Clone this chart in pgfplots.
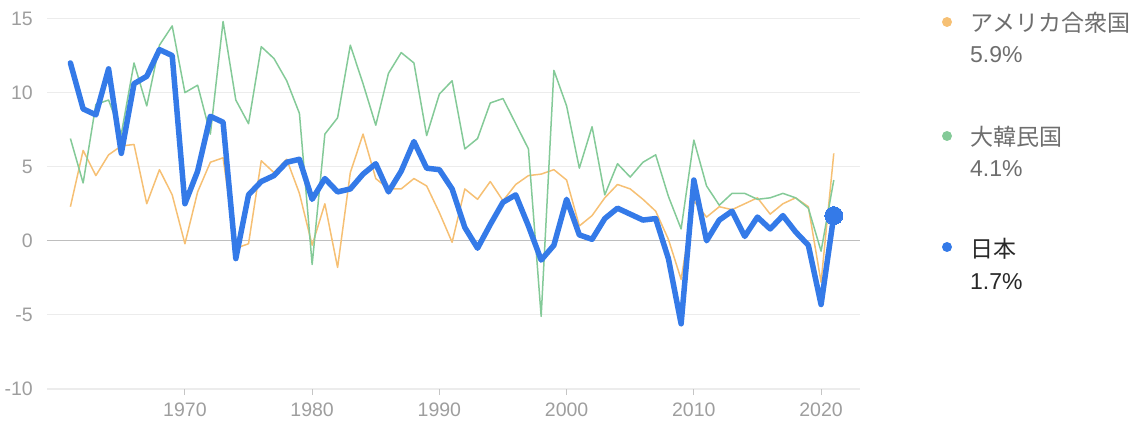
\documentclass[border=0pt]{standalone}
\usepackage{fontspec}
\setmainfont{Liberation Sans}
\newfontfamily\cjk{Noto Sans CJK JP}
\usepackage{pgfplots}
\usepackage{pgfplotstable}
\pgfplotsset{compat=1.18}
\definecolor{jpblue}{RGB}{52,122,232}
\definecolor{usorange}{RGB}{246,192,116}
\definecolor{krgreen}{RGB}{132,202,152}
\definecolor{gridc}{RGB}{236,236,236}
\definecolor{zeroc}{RGB}{190,190,190}
\definecolor{tickc}{RGB}{158,158,158}
\definecolor{legc}{RGB}{110,110,110}
\definecolor{legdark}{RGB}{40,40,40}

\pgfplotstableread{
year val
1961 2.3
1962 6.1
1963 4.4
1964 5.8
1965 6.4
1966 6.5
1967 2.5
1968 4.8
1969 3.1
1970 -0.2
1971 3.3
1972 5.3
1973 5.6
1974 -0.5
1975 -0.2
1976 5.4
1977 4.6
1978 5.5
1979 3.2
1980 -0.3
1981 2.5
1982 -1.8
1983 4.6
1984 7.2
1985 4.2
1986 3.5
1987 3.5
1988 4.2
1989 3.7
1990 1.9
1991 -0.1
1992 3.5
1993 2.8
1994 4.0
1995 2.7
1996 3.8
1997 4.4
1998 4.5
1999 4.8
2000 4.1
2001 1.0
2002 1.7
2003 2.9
2004 3.8
2005 3.5
2006 2.8
2007 2.0
2008 0.1
2009 -2.6
2010 2.7
2011 1.6
2012 2.3
2013 2.1
2014 2.5
2015 2.9
2016 1.8
2017 2.5
2018 2.9
2019 2.3
2020 -2.8
2021 5.9
}\usa

\pgfplotstableread{
year val
1961 6.9
1962 3.9
1963 9.2
1964 9.5
1965 7.2
1966 12.0
1967 9.1
1968 13.2
1969 14.5
1970 10.0
1971 10.5
1972 7.2
1973 14.8
1974 9.5
1975 7.9
1976 13.1
1977 12.3
1978 10.8
1979 8.6
1980 -1.6
1981 7.2
1982 8.3
1983 13.2
1984 10.6
1985 7.8
1986 11.3
1987 12.7
1988 12.0
1989 7.1
1990 9.9
1991 10.8
1992 6.2
1993 6.9
1994 9.3
1995 9.6
1996 7.9
1997 6.2
1998 -5.1
1999 11.5
2000 9.1
2001 4.9
2002 7.7
2003 3.1
2004 5.2
2005 4.3
2006 5.3
2007 5.8
2008 3.0
2009 0.8
2010 6.8
2011 3.7
2012 2.4
2013 3.2
2014 3.2
2015 2.8
2016 2.9
2017 3.2
2018 2.9
2019 2.2
2020 -0.7
2021 4.1
}\korea

\pgfplotstableread{
year val
1961 12.0
1962 8.9
1963 8.5
1964 11.6
1965 5.9
1966 10.6
1967 11.1
1968 12.9
1969 12.5
1970 2.5
1971 4.7
1972 8.4
1973 8.0
1974 -1.2
1975 3.1
1976 4.0
1977 4.4
1978 5.3
1979 5.5
1980 2.8
1981 4.2
1982 3.3
1983 3.5
1984 4.5
1985 5.2
1986 3.3
1987 4.7
1988 6.7
1989 4.9
1990 4.8
1991 3.5
1992 0.9
1993 -0.5
1994 1.1
1995 2.6
1996 3.1
1997 1.0
1998 -1.3
1999 -0.3
2000 2.8
2001 0.4
2002 0.1
2003 1.5
2004 2.2
2005 1.8
2006 1.4
2007 1.5
2008 -1.2
2009 -5.6
2010 4.1
2011 0.0
2012 1.4
2013 2.0
2014 0.3
2015 1.6
2016 0.8
2017 1.7
2018 0.6
2019 -0.3
2020 -4.3
2021 1.7
}\japan

\pgfplotstableread{
year val
2021 1.7
}\japanlast

\begin{document}
\begin{tikzpicture}[x=1pt,y=1pt]
\useasboundingbox (0,0) rectangle (1141,426);
\begin{axis}[
  at={(47pt,37pt)}, anchor=south west,
  scale only axis, width=813pt, height=370.5pt,
  xmin=1959.16, xmax=2023.06, ymin=-10, ymax=15,
  axis line style={draw=none},
  ytick={-10,-5,0,5,10,15},
  xtick={1970,1980,1990,2000,2010,2020},
  xtick pos=lower,
  ymajorgrids, major grid style={gridc, line width=1.2pt},
  extra y ticks={0}, extra y tick labels={},
  extra y tick style={grid=major, major grid style={zeroc, line width=1.4pt}, ytick style={draw=none}},
  ytick style={draw=none},
  xtick style={tickc!60, line width=1pt},
  tick align=outside, major tick length=6pt,
  xticklabel style={font=\fontsize{19.5}{23}\selectfont, color=tickc, inner sep=0pt, anchor=north, yshift=-8pt},
  yticklabel style={font=\fontsize{19.5}{23}\selectfont, color=tickc, inner sep=0pt, anchor=east, xshift=-8pt},
  /pgf/number format/assume math mode=true,
  /pgf/number format/1000 sep={},
  clip=false,
]
\addplot[usorange, line width=1.5pt, line join=round, no markers] table[x=year,y=val] {\usa};
\addplot[krgreen, line width=1.5pt, line join=round, no markers] table[x=year,y=val] {\korea};
\addplot[jpblue, line width=5.5pt, line join=round, line cap=round, no markers] table[x=year,y=val] {\japan};
\addplot[jpblue, only marks, mark=*, mark size=9pt, mark options={fill=jpblue, draw=jpblue, line width=0pt}] table[x=year,y=val] {\japanlast};
\end{axis}
% legend
\fill[usorange] (947,404) circle (5);
\node[anchor=west, inner sep=0pt, text=legc, font=\cjk\fontsize{23}{28}\selectfont] at (970,403) {アメリカ合衆国};
\node[anchor=west, inner sep=0pt, text=legc, font=\fontsize{23}{28}\selectfont] at (970,371) {5.9\%};
\fill[krgreen] (947,290) circle (5);
\node[anchor=west, inner sep=0pt, text=legc, font=\cjk\fontsize{23}{28}\selectfont] at (970,289) {大韓民国};
\node[anchor=west, inner sep=0pt, text=legc, font=\fontsize{23}{28}\selectfont] at (970,257) {4.1\%};
\fill[jpblue] (947,179) circle (5);
\node[anchor=west, inner sep=0pt, text=legdark, font=\cjk\fontsize{23}{28}\selectfont] at (970,177) {日本};
\node[anchor=west, inner sep=0pt, text=legdark, font=\fontsize{23}{28}\selectfont] at (970,144) {1.7\%};
\end{tikzpicture}
\end{document}
